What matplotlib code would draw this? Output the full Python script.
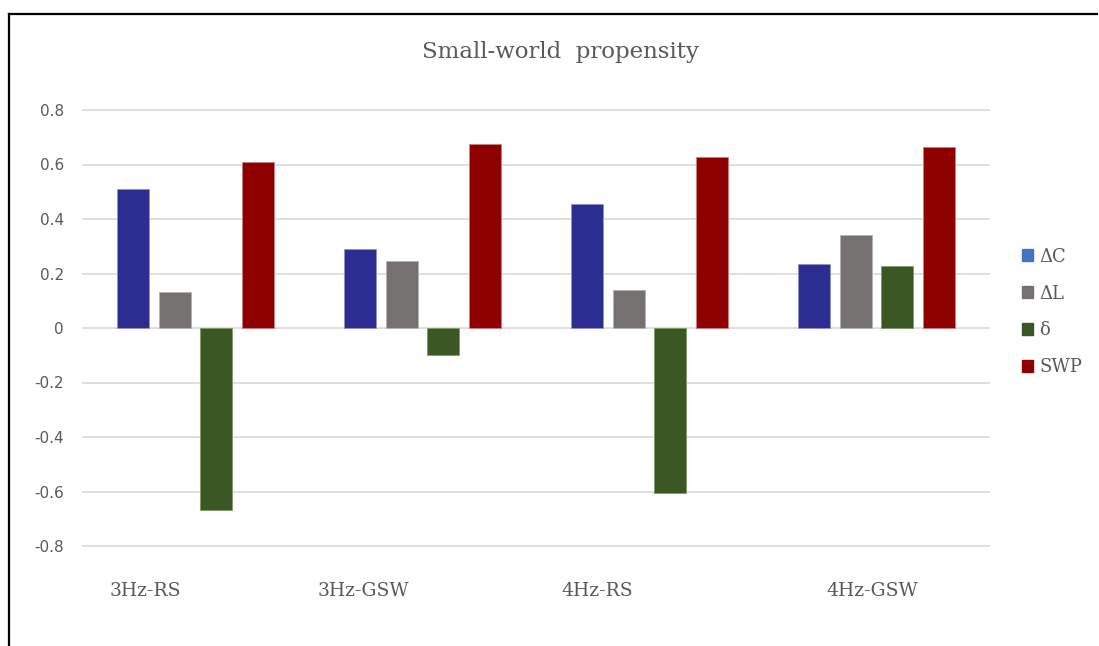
import matplotlib
matplotlib.use('Agg')
import matplotlib.pyplot as plt
import matplotlib.patches as mpatches
import numpy as np

categories = ['3Hz-RS', '3Hz-GSW', '4Hz-RS', '4Hz-GSW']
series_names = ['\u0394C', '\u0394L', '\u03b4', 'SWP']
delta_c = [0.51, 0.29, 0.455, 0.235]
delta_l = [0.132, 0.246, 0.139, 0.341]
delta = [-0.668, -0.099, -0.606, 0.228]
swp = [0.609, 0.675, 0.628, 0.664]
yticks = [-0.8, -0.6, -0.4, -0.2, 0, 0.2, 0.4, 0.6, 0.8]
ytick_labels = ['-0.8', '-0.6', '-0.4', '-0.2', '0', '0.2', '0.4', '0.6', '0.8']
# label centres sit a bit left of the group centres, as in the original
label_shift = [-0.22, -0.26, -0.23, -0.02]

bar_colors = ['#2B2D91', '#767171', '#3A5724', '#8E0000']
edge_colors = ['#8F90D0', '#B5B2B2', '#7E9A6A', '#C98080']
legend_colors = ['#4472C4', '#767171', '#3A5724', '#8E0000']

fig = plt.figure(figsize=(10.99, 6.46), dpi=100)
ax = fig.add_axes([82 / 1099, 1 - 560 / 646, (990 - 82) / 1099, (560 - 96) / 646])

x = np.arange(len(categories))
width = 32 / 227
step = 41.5 / 227
all_series = [delta_c, delta_l, delta, swp]
for i, vals in enumerate(all_series):
    ax.bar(x + (i - 1.5) * step, vals, width, color=bar_colors[i],
           edgecolor=edge_colors[i], linewidth=0.6, zorder=3)

ax.set_xlim(-0.5, len(categories) - 0.5)
ax.set_ylim(-0.8 - 14 / 272.5, 0.8 + 14 / 272.5)
ax.set_yticks(yticks)
ax.set_yticklabels(ytick_labels, fontsize=11, color='#595959', family='DejaVu Sans')
ax.tick_params(axis='y', length=0, pad=13)
ax.set_xticks([])
ax.grid(axis='y', color='#D9D9D9', linewidth=1.2, zorder=0)
for s in ax.spines.values():
    s.set_visible(False)

for i, cat in enumerate(categories):
    ax.text(x[i] + label_shift[i], -0.8 - 0.165, cat, ha='center', va='center',
            fontsize=13.5, color='#595959', family='DejaVu Serif')

fig.text(560 / 1099, 1 - 52 / 646, 'Small-world  propensity', ha='center', va='center',
         fontsize=16.5, color='#595959', family='DejaVu Serif')

handles = [mpatches.Patch(color=c) for c in legend_colors]
leg = fig.legend(handles, series_names, loc='center left',
                 bbox_to_anchor=(1006 / 1099, 1 - 312 / 646), frameon=False,
                 handlelength=0.6, handleheight=0.6, handletextpad=0.35,
                 labelspacing=1.05, prop={'family': 'DejaVu Serif', 'size': 13})
for t in leg.get_texts():
    t.set_color('#595959')

# frame line drawn round the figure (left and top edge visible)
fig.add_artist(plt.Line2D([8.5 / 1099, 8.5 / 1099], [0, 1 - 13.5 / 646],
                          color='black', linewidth=1.6, transform=fig.transFigure))
fig.add_artist(plt.Line2D([8.5 / 1099, 1097 / 1099], [1 - 13.5 / 646, 1 - 13.5 / 646],
                          color='black', linewidth=1.6, transform=fig.transFigure))

fig.savefig('out.png', dpi=100)
